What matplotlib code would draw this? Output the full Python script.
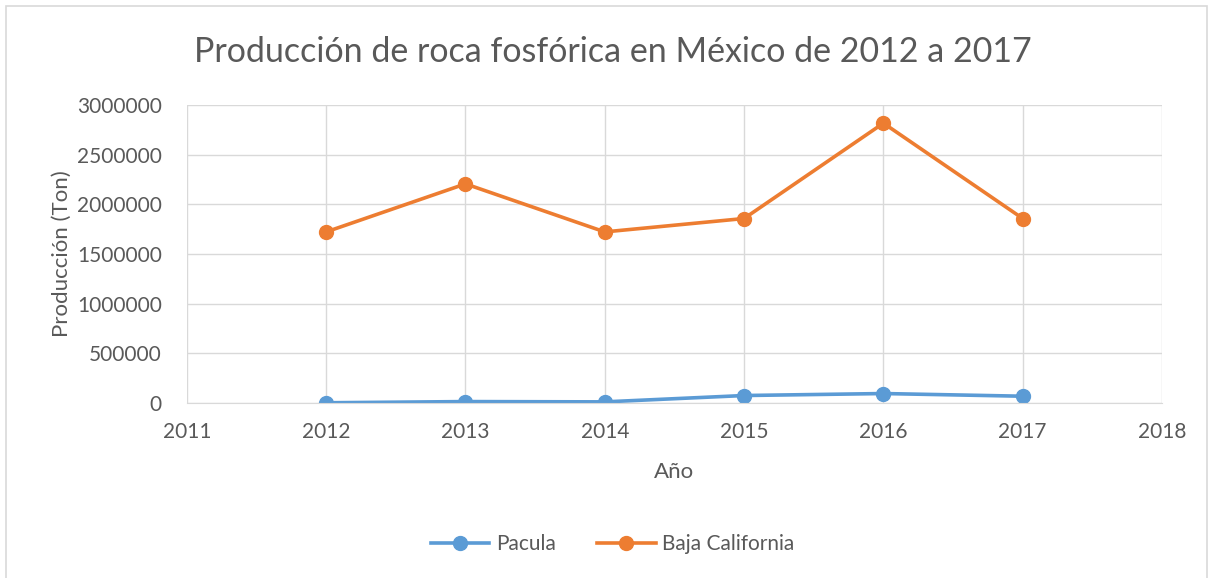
import numpy as np
import matplotlib.pyplot as plt
from matplotlib.patches import Rectangle

# datos
years = [2012, 2013, 2014, 2015, 2016, 2017]
pacula = [1000, 13000, 10000, 74000, 94000, 67000]
baja_california = [1723000, 2207000, 1723000, 1858000, 2819000, 1858000]
xticks = list(range(2011, 2019))
yticks = list(range(0, 3000001, 500000))

plt.rcParams['font.family'] = ['Lato', 'DejaVu Sans']
txt = '#595959'

fig = plt.figure(figsize=(12.13, 5.78), dpi=100)
fig.patches.append(Rectangle((0.005, -0.05), 0.99, 1.04, transform=fig.transFigure,
                             fill=False, edgecolor='#D9D9D9', linewidth=1.2))

ax = fig.add_axes([0.154, 0.303, 0.804, 0.515])
ax.plot(years, pacula, color='#5B9BD5', lw=2.6, marker='o', ms=10, label='Pacula')
ax.plot(years, baja_california, color='#ED7D31', lw=2.6, marker='o', ms=10,
        label='Baja California')

ax.set_xlim(2011, 2018)
ax.set_ylim(0, 3000000)
ax.set_xticks(xticks)
ax.set_yticks(yticks)
ax.set_yticklabels([str(v) for v in yticks])
ax.grid(True, color='#D9D9D9', lw=1)
ax.set_axisbelow(True)
for s in ['top', 'right', 'left']:
    ax.spines[s].set_visible(False)
ax.spines['bottom'].set_color('#D9D9D9')
ax.tick_params(length=0, labelsize=15, colors=txt)
ax.tick_params(axis='y', pad=18)
ax.tick_params(axis='x', pad=14)

ax.set_xlabel('Año', fontsize=16, color=txt, labelpad=14)
ax.set_ylabel('Producción (Ton)', fontsize=16, color=txt, labelpad=4)
fig.text(0.505, 0.91, 'Producción de roca fosfórica en México de 2012 a 2017',
         ha='center', va='center', fontsize=24.5, color=txt)

fig.legend(loc='center', bbox_to_anchor=(0.505, 0.058), ncol=2, frameon=False,
           fontsize=15, labelcolor=txt, handlelength=2.8, columnspacing=2,
           handletextpad=0.3)

plt.savefig('out.png', dpi=100)
